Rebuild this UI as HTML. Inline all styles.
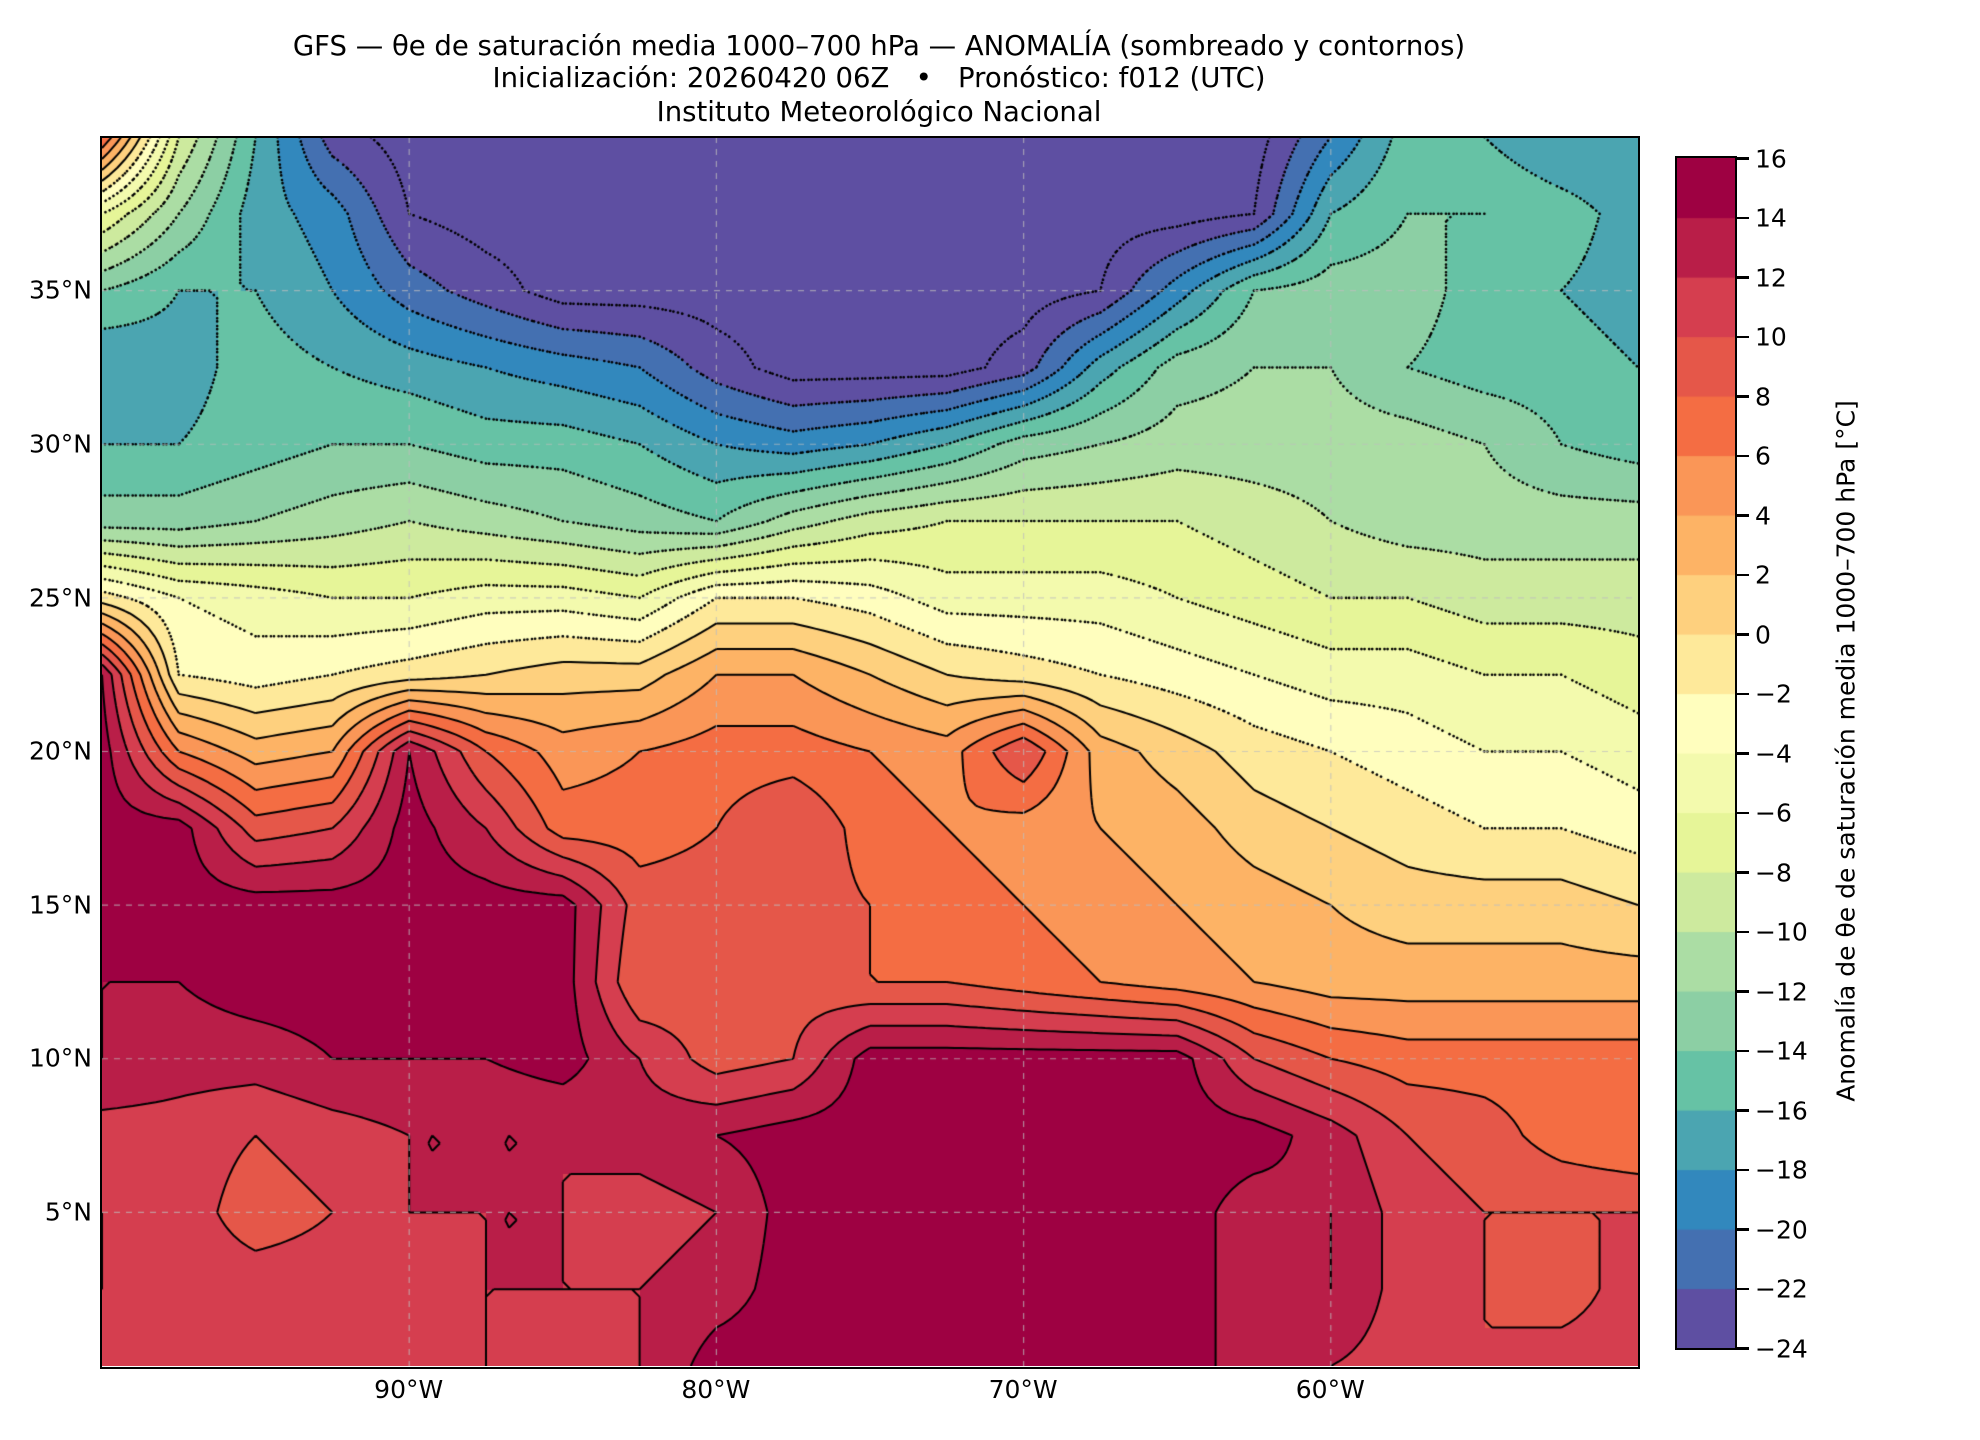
<!DOCTYPE html>
<html><head><meta charset="utf-8">
<style>
html,body{margin:0;padding:0;background:#fff;}
body{width:1980px;height:1440px;position:relative;overflow:hidden;font-family:"DejaVu Sans","Liberation Sans",sans-serif;color:#000;}
.t{position:absolute;left:0;width:1758px;text-align:center;font-size:27.5px;line-height:32px;}
#map{position:absolute;left:101.5px;top:136.7px;width:1536px;height:1229px;}
#frame{position:absolute;left:100px;top:135.5px;width:1536px;height:1229px;border:2.5px solid #000;}
.yl{position:absolute;font-size:25px;right:1888px;text-align:right;transform:translateY(-50%);}
.xl{position:absolute;font-size:25px;top:1375px;transform:translateX(-50%);}
#cbar{position:absolute;left:1675px;top:156px;width:58px;height:1190px;border:2.5px solid #000;}
.ct{position:absolute;left:1737px;width:12px;height:2.5px;background:#000;}
.cl{position:absolute;left:1755px;font-size:25px;transform:translateY(-50%);}
#clabel{position:absolute;left:1846px;top:751px;transform:translate(-50%,-50%) rotate(-90deg);font-size:25px;white-space:nowrap;}
</style></head><body>
<div class="t" style="top:30px">GFS — θe de saturación media 1000–700 hPa — ANOMALÍA (sombreado y contornos)</div>
<div class="t" style="top:62px">Inicialización: 20260420 06Z &nbsp; • &nbsp; Pronóstico: f012 (UTC)</div>
<div class="t" style="top:96px">Instituto Meteorológico Nacional</div>
<canvas id="map" width="1536" height="1229"></canvas>
<div id="frame"></div>
<div id="ylabels"></div><div id="xlabels"></div>
<canvas id="cbar" width="58" height="1190"></canvas>
<div id="cticks"></div>
<div id="clabel">Anomalía de θe de saturación media 1000–700 hPa [°C]</div>
<script>
const lons = [-100,-97.5,-95,-92.5,-90,-87.5,-85,-82.5,-80,-77.5,-75,-72.5,-70,-67.5,-65,-62.5,-60,-57.5,-55,-52.5,-50];
const lats = [40,37.5,35,32.5,30,27.5,25,22.5,20,17.5,15,12.5,10,7.5,5,2.5,0];
const r40  = [8,-8,-16,-23,-25,-25,-25,-25,-25,-25,-25,-25,-25,-25,-25,-25,-20,-15,-16,-18,-18];
const r375 = [-6,-12,-17,-19,-24,-25,-25,-25,-25,-25,-25,-25,-25,-25,-25,-24,-16,-14,-14,-15,-17];
const r35  = [-14,-16,-16,-18,-21,-23,-25,-25,-25,-25,-25,-25,-25,-24,-19,-14,-13,-13,-15,-16,-17];
const r325 = [-18,-17,-15,-16,-17,-18,-19,-20,-23,-25,-25,-25,-23,-17,-13,-12,-12,-14,-15,-15,-16];
const r30  = [-16,-16,-15,-14,-14,-15,-15,-16,-18,-19,-18,-16,-13,-12,-11,-11,-11,-11,-12,-14,-15];
const r275 = [-13,-13,-12,-11,-10,-11,-12,-13,-14,-11,-9,-8,-8,-8,-8,-9,-10,-11,-11,-11,-11];
const r25  = [-1,-4,-5,-6,-6,-5,-5,-6,-2,-2,-3,-5,-5,-5,-6,-7,-8,-8,-9,-9,-9];
const r225 = [14,-2,-3,-2,-1,0,1,1,4,4,2,0,-1,-2,-3,-4,-5,-5,-6,-6,-7];
const r20  = [15,6,3,4,14,8,5,6,7,7,6,5,10,3,1,-1,-2,-3,-4,-4,-5];
const r175 = [15,15,9,10,15,12,7,7,8,10,7,6,5,4,3,1,0,-1,-2,-2,-3];
const r15  = [15,15,15,15,15,15,15,9,9,9,8,7,6,5,4,3,2,1,1,1,0];
const r125 = [14,14,15,15,15,15,15,8,9,9,8,8,7,6,5,4,3,3,3,3,3];
const r10  = [14,13,13,14,14,14,15,12,9,10,15,15,15,15,15,10,8,7,7,7,7];
const r75  = [11,11,10,11,12,12,12,13,14,15,15,15,15,15,15,15,13,10,9,7,6];
const r5   = [12,11,9,10,12,12,12,11,12,15,15,15,15,15,15,13,14,11,10,10,10];
const r25s = [12,11,11,11,11,12,12,12,13,15,15,15,15,15,15,13,14,11,10,9,11];
const r0   = [11,11,12,11,11,12,11,12,15,15,15,15,15,15,15,13,12,11,10,11,11];
const grid = [r40,r375,r35,r325,r30,r275,r25,r225,r20,r175,r15,r125,r10,r75,r5,r25s,r0];
const levels = [-24,-22,-20,-18,-16,-14,-12,-10,-8,-6,-4,-2,0,2,4,6,8,10,12,14,16];
const colors = ['#5e4fa2','#4470b1','#3288bd','#4ba5b1','#66c2a5','#8ccfa4','#abdda4','#cdea9e','#e6f598','#f3faad','#fffebe','#fee99a','#fed07e','#fdb365','#fa9657','#f46d43','#e55749','#d53e4f','#b91e48','#9e0142'];
const latTicks = [5,10,15,20,25,30,35];
const lonTicks = [-90,-80,-70,-60];

const W=1536,H=1229;
const X=lon=>(lon+100)/50*W;
const Y=lat=>(40-lat)/40*H;
function val(lon,lat){
  let fi=(lon-lons[0])/2.5, fj=(lats[0]-lat)/2.5;
  fi=Math.max(0,Math.min(lons.length-1.0001,fi)); fj=Math.max(0,Math.min(lats.length-1.0001,fj));
  const i=Math.floor(fi),j=Math.floor(fj),a=fi-i,b=fj-j;
  return grid[j][i]*(1-a)*(1-b)+grid[j][i+1]*a*(1-b)+grid[j+1][i]*(1-a)*b+grid[j+1][i+1]*a*b;
}
function rgb(h){return [parseInt(h.substr(1,2),16),parseInt(h.substr(3,2),16),parseInt(h.substr(5,2),16)];}
const rgbs=colors.map(rgb);
function colIdx(v){let k=Math.floor((v-levels[0])/2);return Math.max(0,Math.min(colors.length-1,k));}

const cv=document.getElementById('map'),ctx=cv.getContext('2d');
const img=ctx.createImageData(W,H);
for(let py=0;py<H;py++){const lat=40-py/H*40;
  for(let px=0;px<W;px++){const lon=-100+px/W*50;
    const c=rgbs[colIdx(val(lon,lat))];const o=(py*W+px)*4;
    img.data[o]=c[0];img.data[o+1]=c[1];img.data[o+2]=c[2];img.data[o+3]=255;}}
ctx.putImageData(img,0,0);

const step=0.25,nx=Math.round(50/step),ny=Math.round(40/step);
const F=[];for(let j=0;j<=ny;j++){F.push([]);for(let i=0;i<=nx;i++)F[j].push(val(-100+i*step,40-j*step));}
ctx.strokeStyle='#000';
for(let L=-24;L<=16;L+=2){
  ctx.beginPath();
  for(let j=0;j<ny;j++)for(let i=0;i<nx;i++){
    const v=[F[j][i],F[j][i+1],F[j+1][i+1],F[j+1][i]];
    const p=[[i,j],[i+1,j],[i+1,j+1],[i,j+1]];
    const pts=[];
    for(let e=0;e<4;e++){const a=v[e],b=v[(e+1)%4];
      if((a<L)!==(b<L)){const t=(L-a)/(b-a);const pa=p[e],pb=p[(e+1)%4];
        pts.push([(pa[0]+t*(pb[0]-pa[0]))*step,(pa[1]+t*(pb[1]-pa[1]))*step]);}}
    for(let k=0;k+1<pts.length;k+=2){
      ctx.moveTo(pts[k][0]/50*W,pts[k][1]/40*H);ctx.lineTo(pts[k+1][0]/50*W,pts[k+1][1]/40*H);}
  }
  if(L<0){ctx.setLineDash([0.1,4.5]);ctx.lineCap='round';ctx.lineWidth=2.6;}else{ctx.setLineDash([]);ctx.lineCap='butt';ctx.lineWidth=2;}
  ctx.stroke();
}
ctx.setLineDash([6,6]);ctx.lineCap='butt';ctx.strokeStyle='rgba(190,190,190,0.7)';ctx.lineWidth=1.2;
ctx.beginPath();
latTicks.forEach(l=>{ctx.moveTo(0,Y(l));ctx.lineTo(W,Y(l));});
lonTicks.forEach(l=>{ctx.moveTo(X(l),0);ctx.lineTo(X(l),H);});
ctx.stroke();

const yl=document.getElementById('ylabels');
latTicks.forEach(l=>{const d=document.createElement('div');d.className='yl';
  
  
  d.style.top=(136.7+Y(l))+'px';d.textContent=l+'°N';yl.appendChild(d);});
const xl=document.getElementById('xlabels');
lonTicks.forEach(l=>{const d=document.createElement('div');d.className='xl';
  
  
  d.style.left=(101.5+X(l))+'px';d.textContent=(-l)+'°W';xl.appendChild(d);});

const cb=document.getElementById('cbar'),cc=cb.getContext('2d');
const ch=1190/colors.length;
colors.forEach((c,k)=>{cc.fillStyle=c;cc.fillRect(0,1190-(k+1)*ch,58,ch+0.6);});
const ct=document.getElementById('cticks');
levels.forEach((l,k)=>{const y=158.5+1190-k*ch;
  const t=document.createElement('div');t.className='ct';
  
  
  t.style.top=(y-1.2)+'px';ct.appendChild(t);
  const d=document.createElement('div');d.className='cl';
  
  
  d.style.top=y+'px';d.textContent=(l<0?'\u2212'+(-l):l);ct.appendChild(d);});
</script>
</body></html>
